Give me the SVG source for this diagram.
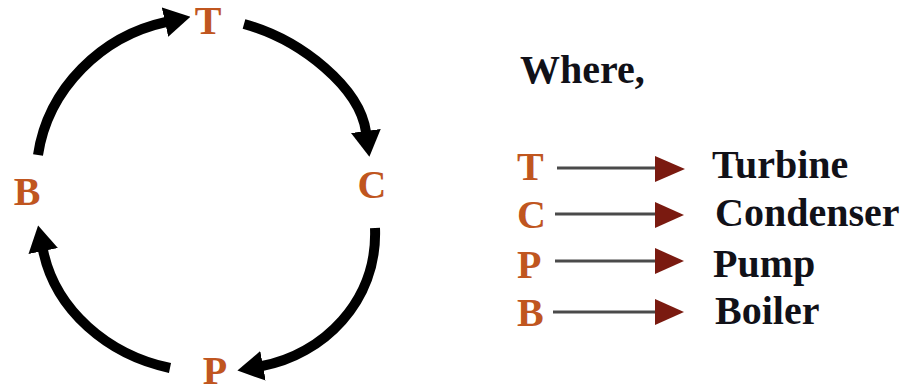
<svg xmlns="http://www.w3.org/2000/svg" width="907" height="387" viewBox="0 0 907 387">
  <style>
    .lbl { font-weight: bold; font-size: 40px; fill: #c0561f; }
    .txt { font-weight: bold; font-size: 40px; fill: #111118; }
    .arc { fill: none; stroke: #000; stroke-width: 10; }
    .lline { stroke: #4a4a4a; stroke-width: 3; }
    .lhead { fill: #7a1a10; }
  </style>
  <defs>
    <marker id="ah" markerUnits="userSpaceOnUse" viewBox="0 -15 26 30" markerWidth="26" markerHeight="30" refX="1" refY="0" orient="auto">
      <path d="M0,-15 L26,0 L0,15 Z" fill="#000"/>
    </marker>
  </defs>
  <rect width="907" height="387" fill="#fff"/>

  <g id="connectors">
    <path class="arc" d="M38,155 C48,88 102,36 166,22" marker-end="url(#ah)"/>
    <path class="arc" d="M244,24 C302,40 360,88 366,132" marker-end="url(#ah)"/>
    <path class="arc" d="M375,228 C378,302 322,355 262,366" marker-end="url(#ah)"/>
    <path class="arc" d="M170,368 C108,355 55,310 43,250" marker-end="url(#ah)"/>
  </g>

  <g font-family="Liberation Serif, DejaVu Serif, serif">
  <g id="node-T"><text class="lbl" x="208" y="34" text-anchor="middle">T</text></g>
  <g id="node-C"><text class="lbl" x="372" y="198" text-anchor="middle">C</text></g>
  <g id="node-P"><text class="lbl" x="215" y="384" text-anchor="middle">P</text></g>
  <g id="node-B"><text class="lbl" x="27" y="205" text-anchor="middle">B</text></g>

  <g id="legend">
    <text class="txt" x="520" y="83">Where,</text>

    <g id="legend-T">
      <text class="lbl" x="517" y="180">T</text>
      <line class="lline" x1="557" y1="168" x2="657" y2="168"/>
      <path class="lhead" d="M655,156 L685,169 L655,182 Z"/>
      <text class="txt" x="712" y="178">Turbine</text>
    </g>
    <g id="legend-C">
      <text class="lbl" x="517" y="228">C</text>
      <line class="lline" x1="555" y1="214" x2="657" y2="214"/>
      <path class="lhead" d="M655,202 L684,215 L655,228 Z"/>
      <text class="txt" x="715" y="226">Condenser</text>
    </g>
    <g id="legend-P">
      <text class="lbl" x="517" y="278">P</text>
      <line class="lline" x1="555" y1="261" x2="657" y2="261"/>
      <path class="lhead" d="M655,248 L684,261 L655,274 Z"/>
      <text class="txt" x="713" y="277">Pump</text>
    </g>
    <g id="legend-B">
      <text class="lbl" x="517" y="326">B</text>
      <line class="lline" x1="553" y1="312" x2="657" y2="312"/>
      <path class="lhead" d="M655,299 L684,312 L655,325 Z"/>
      <text class="txt" x="715" y="324">Boiler</text>
    </g>
  </g>
  </g>
</svg>
